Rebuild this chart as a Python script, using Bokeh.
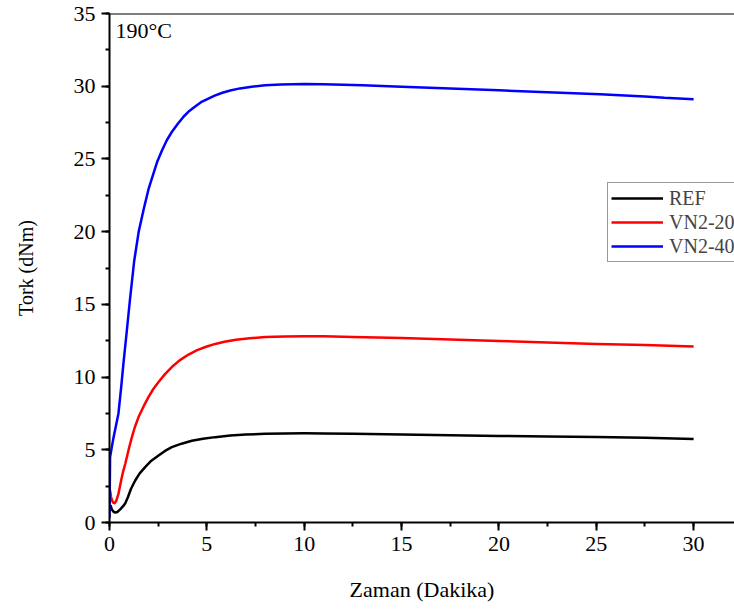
from bokeh.plotting import figure
from bokeh.models import (Range1d, SingleIntervalTicker, Span, Label, Legend, LegendItem)
from bokeh.embed import file_html
from bokeh.resources import INLINE

# ---- data ----
ref_x = [0.05, 0.12, 0.2, 0.29, 0.4, 0.55, 0.7, 0.81, 0.95, 1.1, 1.32, 1.55, 1.83, 2.15, 2.52,
         2.85, 3.2, 3.7, 4.23, 4.8, 5.43, 6.2, 7, 8, 9, 10, 11, 12.5, 15, 17.5, 20, 22.5,
         25, 27.5, 30]
ref_y = [1.2, 0.9, 0.75, 0.68, 0.72, 0.9, 1.12, 1.32, 1.75, 2.3, 2.89, 3.38, 3.81, 4.25, 4.61,
         4.92, 5.18, 5.42, 5.62, 5.76, 5.87, 5.98, 6.05, 6.1, 6.12, 6.13, 6.12, 6.1, 6.05,
         6.0, 5.95, 5.92, 5.88, 5.82, 5.75]

vn20_x = [0.03, 0.08, 0.14, 0.2, 0.26, 0.35, 0.46, 0.6, 0.7, 0.81, 1.0, 1.15, 1.3, 1.49, 1.75,
          2.0, 2.25, 2.52, 2.85, 3.2, 3.6, 4.06, 4.5, 5.0, 5.43, 5.9, 6.5, 7.2, 8, 9, 10, 11,
          12.5, 15, 17.5, 20, 22.5, 25, 27.5, 30]
vn20_y = [2.2, 1.75, 1.48, 1.36, 1.33, 1.5, 1.97, 2.9, 3.5, 4.04, 5.1, 5.87, 6.55, 7.25, 7.98,
          8.62, 9.18, 9.66, 10.2, 10.69, 11.15, 11.55, 11.85, 12.1, 12.28, 12.43, 12.57, 12.67,
          12.75, 12.79, 12.8, 12.8, 12.76, 12.68, 12.58, 12.48, 12.38, 12.28, 12.2, 12.1]

vn40_x = [0.0, 0.03, 0.2, 0.46, 0.6, 0.72, 0.89, 1.05, 1.27, 1.5, 1.75, 2.0, 2.26, 2.45, 2.7,
          2.95, 3.2, 3.5, 3.8, 4.1, 4.4, 4.7, 5.0, 5.4, 5.8, 6.2, 6.7, 7.3, 8.0, 8.8, 10, 11,
          13, 15, 17.5, 20, 22.5, 25.2, 27.5, 28.5, 30]
vn40_y = [0.3, 4.5, 5.8, 7.5, 9.3, 11.0, 13.2, 15.3, 18.0, 20.0, 21.5, 22.9, 24.0, 24.8, 25.6,
          26.3, 26.85, 27.4, 27.9, 28.3, 28.6, 28.9, 29.1, 29.35, 29.55, 29.7, 29.85, 29.97,
          30.06, 30.12, 30.15, 30.14, 30.06, 29.97, 29.85, 29.72, 29.58, 29.45, 29.3, 29.2, 29.1]

series_names = ["REF", "VN2-20", "VN2-40"]
series_colors = ["#000000", "#ff0000", "#0000ff"]

FONT = "Liberation Serif"

p = figure(width=734, height=610, output_backend="svg", toolbar_location=None,
           x_range=Range1d(0, 32.1), y_range=Range1d(0, 35),
           min_border_left=109, min_border_right=0, min_border_top=13, min_border_bottom=88)
p.outline_line_color = None
p.grid.visible = False
p.background_fill_color = "white"
p.border_fill_color = "white"

p.xaxis.ticker = SingleIntervalTicker(interval=5, num_minor_ticks=2)
p.yaxis.ticker = SingleIntervalTicker(interval=5, num_minor_ticks=2)
for ax in (p.xaxis[0], p.yaxis[0]):
    ax.axis_line_width = 2
    ax.axis_line_color = "black"
    ax.major_tick_line_width = 2
    ax.minor_tick_line_width = 2
    ax.major_tick_line_color = "black"
    ax.minor_tick_line_color = "black"
    ax.major_tick_in = 0
    ax.major_tick_out = 8
    ax.minor_tick_in = 0
    ax.minor_tick_out = 4
    ax.major_label_text_font = FONT
    ax.major_label_text_font_size = "22px"
    ax.major_label_text_color = "black"
    ax.major_label_standoff = 6
    ax.axis_label_text_font = FONT
    ax.axis_label_text_font_style = "normal"
    ax.axis_label_text_color = "black"

p.xaxis.axis_label = "Zaman (Dakika)"
p.xaxis.axis_label_text_font_size = "22px"
p.xaxis.axis_label_standoff = 23
p.yaxis.axis_label = "Tork (dNm)"
p.yaxis.axis_label_text_font_size = "20px"
p.yaxis.axis_label_standoff = 34

p.add_layout(Span(location=35, dimension="width", line_color="black", line_width=2))

renderers = []
for xs, ys, c in zip([ref_x, vn20_x, vn40_x], [ref_y, vn20_y, vn40_y], series_colors):
    r = p.line(xs, ys, line_color=c, line_width=2.5, line_join="round")
    renderers.append(r)

legend = Legend(items=[LegendItem(label=n, renderers=[r]) for n, r in zip(series_names, renderers)],
                location=(498, 260), padding=3, spacing=0, margin=0,
                label_height=24, glyph_height=24, glyph_width=52, label_standoff=6,
                label_text_font=FONT, label_text_font_size="20px",
                border_line_color="#333333", border_line_width=1,
                background_fill_color="white", background_fill_alpha=1.0)
p.add_layout(legend, "center")

p.add_layout(Label(x=0, y=35, x_offset=6, y_offset=-4, text="190°C", text_baseline="top",
                   text_font=FONT, text_font_size="22px", text_color="black"))

open("out.html", "w").write(file_html(p, INLINE))
